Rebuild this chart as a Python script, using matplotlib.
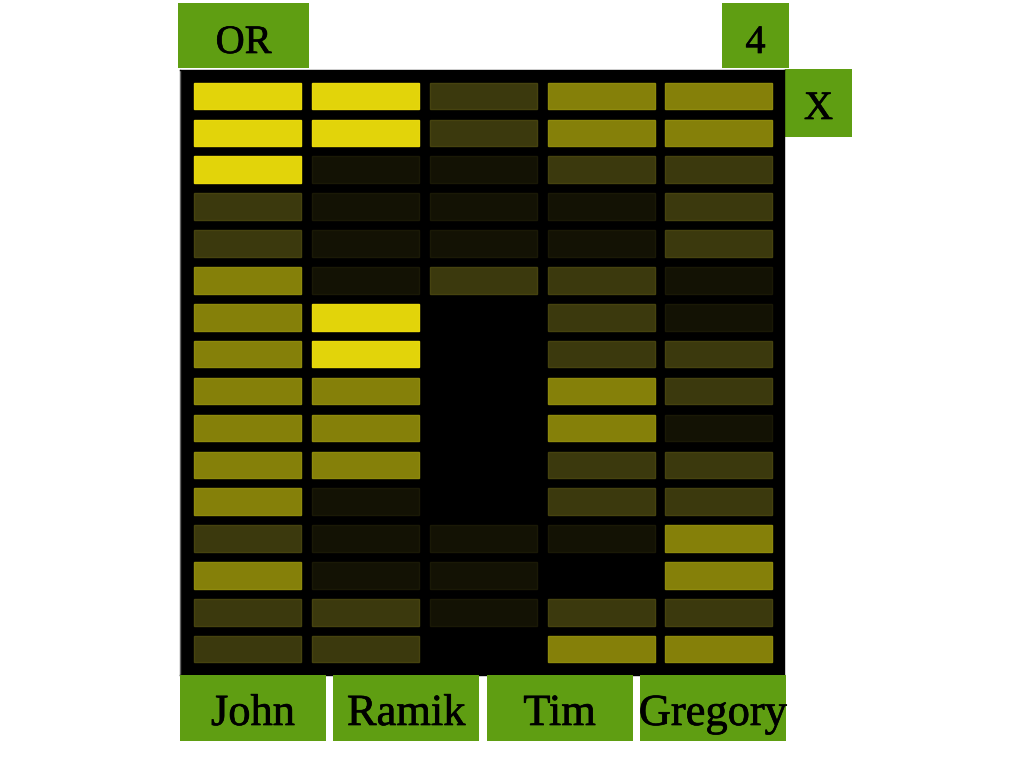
import matplotlib
matplotlib.use("Agg")
import matplotlib.pyplot as plt
from matplotlib.patches import Rectangle
import matplotlib.patheffects as pe

# ---- data ----
column_labels = ["John", "Ramik", "Tim", "Gregory"]
corner_labels = ["OR", "4", "X"]
n_cols = 5
# intensity level per row (top to bottom) for the five columns; 0 = no cell
col1 = [4, 4, 4, 2, 2, 3, 3, 3, 3, 3, 3, 3, 2, 3, 2, 2]
col2 = [4, 4, 1, 1, 1, 1, 4, 4, 3, 3, 3, 1, 1, 1, 2, 2]
col3 = [2, 2, 1, 1, 1, 2, 0, 0, 0, 0, 0, 0, 1, 1, 1, 0]
col4 = [3, 3, 2, 1, 1, 2, 2, 2, 3, 3, 2, 2, 1, 0, 2, 3]
col5 = [3, 3, 2, 2, 2, 1, 1, 2, 2, 1, 2, 2, 3, 3, 2, 3]
columns = [col1, col2, col3, col4, col5]

level_colors = {1: "#131204", 2: "#3b390d", 3: "#858009", 4: "#e2d40a"}
edge_colors = {1: "#1a1906", 2: "#46430f", 3: "#8f8a0c", 4: "#e8d80c"}
green = "#5f9e12"
font = "Liberation Serif"
thick = [pe.withStroke(linewidth=0.5, foreground="black")]

W, H = 1024, 768
fig = plt.figure(figsize=(W / 100, H / 100), dpi=100)

# decoration layer in pixel coordinates
deco = fig.add_axes([0, 0, 1, 1])
deco.set_xlim(0, W)
deco.set_ylim(H, 0)
deco.axis("off")

# corner label boxes
corner_boxes = [(178, 3, 131, 65, 53), (722, 3, 67, 65, 53), (785, 69, 67, 68, 119)]
for lab, (x, y, w, h, base) in zip(corner_labels, corner_boxes):
    deco.add_patch(Rectangle((x, y), w, h, facecolor=green, edgecolor="none"))
    deco.text(x + w / 2, base, lab, ha="center", va="baseline",
              fontsize=29, family=font, color="black", path_effects=thick)

# ---- heat panel ----
pl, pr, pt, pb = 180, 784, 70, 675
ax = fig.add_axes([pl / W, 1 - pb / H, (pr - pl) / W, (pb - pt) / H])
ax.set_facecolor("black")
n_rows = len(col1)
ax.set_xlim(-0.5725, n_cols - 1 + 0.5525)
ax.set_ylim(n_rows - 1 + 0.70, -0.705)
ax.set_xticks([])
ax.set_yticks([])
for name, s in ax.spines.items():
    s.set_color("#666666" if name == "left" else "black")
    s.set_linewidth(1)
cw, ch = 0.908, 0.72
for j, col in enumerate(columns):
    for i, v in enumerate(col):
        if v == 0:
            continue
        ax.add_patch(Rectangle((j - cw / 2, i - ch / 2), cw, ch,
                               facecolor=level_colors[v],
                               edgecolor=edge_colors[v], linewidth=1.0))

# ---- bottom label strip ----
bl, br, bt, bb = 180, 786, 675, 741
box_w, box_pitch = 146, 153.3
lab_ax = fig.add_axes([bl / W, 1 - bb / H, (br - bl) / W, (bb - bt) / H])
lab_ax.set_xlim(0, len(column_labels) - 1 + box_w / box_pitch)
lab_ax.set_ylim(1, 0)
lab_ax.axis("off")
frac = box_w / box_pitch
for k, lab in enumerate(column_labels):
    lab_ax.add_patch(Rectangle((k, 0), frac, 1, facecolor=green, edgecolor="none"))
    lab_ax.text(k + frac / 2, 50 / 66, lab, ha="center", va="baseline",
                fontsize=32, family=font, color="black", path_effects=thick)

fig.savefig("out.png", dpi=100)
